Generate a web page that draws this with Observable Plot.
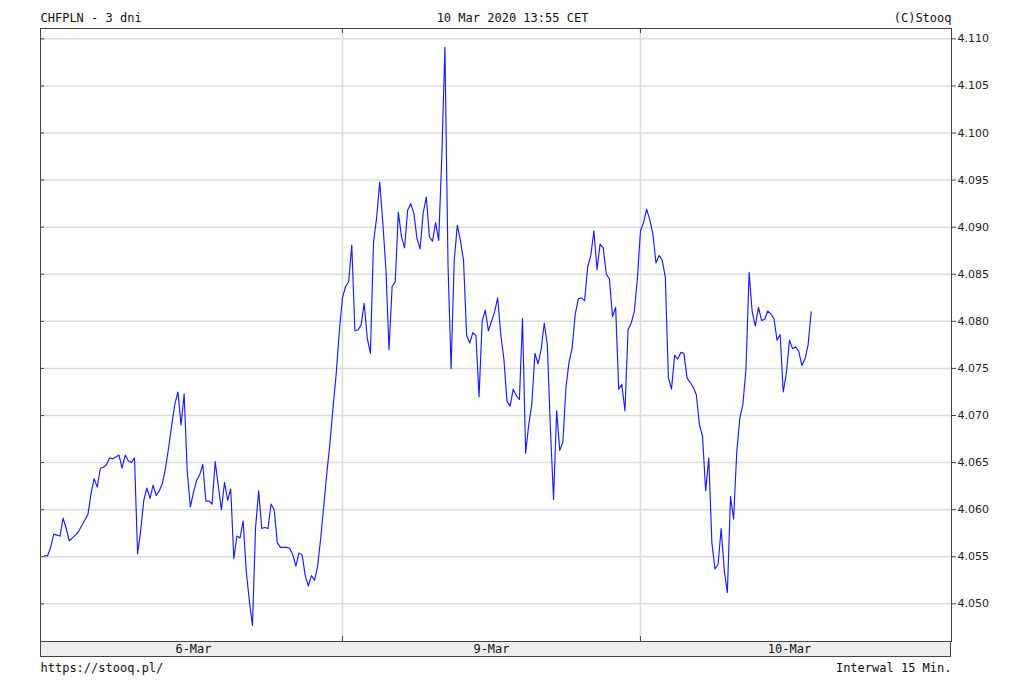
<!DOCTYPE html>
<html>
<head>
<meta charset="utf-8">
<script src="https://cdn.jsdelivr.net/npm/d3@7"></script>
<script src="https://cdn.jsdelivr.net/npm/@observablehq/plot@0.6"></script>
<style>
  body { margin: 0; background: #fff; }
  #chart svg { display: block; }
</style>
</head>
<body>
<div id="chart"></div>
<script>
// ---- texts ----
const title = "CHFPLN - 3 dni";
const stamp = "10 Mar 2020 13:55 CET";
const credit = "(C)Stooq";
const source = "https://stooq.pl/";
const interval = "Interwal 15 Min.";

// ---- axis labels ----
const days = ["6-Mar", "9-Mar", "10-Mar"];
const yTicks = [4.050, 4.055, 4.060, 4.065, 4.070, 4.075, 4.080, 4.085, 4.090, 4.095, 4.100, 4.105, 4.110];

// ---- CHF/PLN quotes, 15-minute bars from 00:00 of each day ----
const day6 = [
  4.0551, 4.0551, 4.0560, 4.0574, 4.0573, 4.0572, 4.0591, 4.0580, 4.0567, 4.0570,
  4.0573, 4.0577, 4.0583, 4.0589, 4.0595, 4.0617, 4.0633, 4.0624, 4.0644, 4.0645,
  4.0648, 4.0655, 4.0654, 4.0656, 4.0658, 4.0644, 4.0658, 4.0652, 4.0650, 4.0655,
  4.0553, 4.0578, 4.0610, 4.0623, 4.0612, 4.0626, 4.0615, 4.0620, 4.0628, 4.0644,
  4.0666, 4.0690, 4.0712, 4.0725, 4.0690, 4.0723, 4.0640, 4.0603, 4.0618, 4.0631,
  4.0637, 4.0648, 4.0609, 4.0609, 4.0606, 4.0651, 4.0625, 4.0600, 4.0629, 4.0610,
  4.0622, 4.0548, 4.0572, 4.0570, 4.0588, 4.0535, 4.0503, 4.0477, 4.0581, 4.0620,
  4.0580, 4.0581, 4.0580, 4.0606, 4.0600, 4.0565, 4.0560, 4.0560, 4.0560, 4.0559,
  4.0552, 4.0540, 4.0554, 4.0552, 4.0530, 4.0519, 4.0530, 4.0525, 4.0540, 4.0570,
  4.0605, 4.0640, 4.0672, 4.0710, 4.0745, 4.0790
];
const day9 = [
  4.0825, 4.0837, 4.0842, 4.0881, 4.0790, 4.0791, 4.0796, 4.0819, 4.0782, 4.0766,
  4.0884, 4.0910, 4.0948, 4.0905, 4.0855, 4.0770, 4.0837, 4.0842, 4.0916, 4.0890,
  4.0878, 4.0918, 4.0925, 4.0915, 4.0888, 4.0877, 4.0915, 4.0932, 4.0890, 4.0885,
  4.0905, 4.0886, 4.0975, 4.1091, 4.0860, 4.0750, 4.0865, 4.0902, 4.0886, 4.0865,
  4.0785, 4.0777, 4.0788, 4.0785, 4.0720, 4.0800, 4.0812, 4.0790, 4.0800, 4.0810,
  4.0825, 4.0786, 4.0760, 4.0715, 4.0710, 4.0728, 4.0721, 4.0717, 4.0803, 4.0660,
  4.0690, 4.0712, 4.0766, 4.0755, 4.0770, 4.0798, 4.0775, 4.0685, 4.0611, 4.0705,
  4.0663, 4.0672, 4.0730, 4.0757, 4.0772, 4.0808, 4.0824, 4.0825, 4.0822, 4.0858,
  4.0870, 4.0896, 4.0855, 4.0882, 4.0878, 4.0850, 4.0845, 4.0805, 4.0815, 4.0728,
  4.0733, 4.0705, 4.0791, 4.0798, 4.0810, 4.0845
];
const day10 = [
  4.0896, 4.0905, 4.0919, 4.0908, 4.0893, 4.0862, 4.0870, 4.0865, 4.0847, 4.0740,
  4.0728, 4.0764, 4.0760, 4.0767, 4.0766, 4.0740, 4.0735, 4.0730, 4.0722, 4.0690,
  4.0678, 4.0620, 4.0655, 4.0565, 4.0537, 4.0542, 4.0580, 4.0535, 4.0512, 4.0614,
  4.0590, 4.0660, 4.0697, 4.0712, 4.0750, 4.0852, 4.0810, 4.0795, 4.0815, 4.0801,
  4.0802, 4.0811, 4.0808, 4.0803, 4.0780, 4.0786, 4.0725, 4.0745, 4.0780, 4.0771,
  4.0773, 4.0768, 4.0753, 4.0760, 4.0775, 4.0810
];

// hours on a trading-day axis (each shown day = 24 h)
const series = [day6, day9, day10];
const data = series.flatMap((vals, d) => vals.map((v, i) => ({t: d * 24 + i / 4, v})));

const W = 1024, H = 687, mL = 40, mR = 73, mT = 28, mB = 46, bandH = 15;
const plotW = W - mL - mR, plotH = H - mT - mB;

function bandMark(index, scales, values, dim) {
  const d = dim || {width: W, height: H, marginLeft: mL, marginRight: mR, marginBottom: mB};
  const g = d3.create("svg:g");
  g.append("rect")
    .attr("x", d.marginLeft + 0.5)
    .attr("y", d.height - d.marginBottom + 0.5)
    .attr("width", d.width - d.marginLeft - d.marginRight - 1)
    .attr("height", bandH)
    .attr("fill", "#eeeeee")
    .attr("stroke", "#444");
  return g.node();
}

const chart = Plot.plot({
  width: W, height: H,
  marginLeft: mL, marginRight: mR, marginTop: mT, marginBottom: mB,
  x: {type: "linear", domain: [-0.32, 73.05], label: null},
  y: {domain: [4.0460, 4.1111], label: null},
  style: {background: "#fff", color: "#111", fontFamily: "DejaVu Sans Mono", overflow: "visible"},
  marks: [
    Plot.gridY(yTicks, {stroke: "#dcdcdc", strokeOpacity: 1, strokeWidth: 1.5}),
    Plot.gridX([24, 48], {stroke: "#dcdcdc", strokeOpacity: 1, strokeWidth: 1.5}),
    Plot.ruleX([24, 48], {stroke: "#444", insetBottom: plotH - 5}),
    Plot.ruleX([24, 48], {stroke: "#444", insetTop: plotH - 5}),
    Plot.ruleY(yTicks, {stroke: "#444", insetRight: plotW - 4}),
    Plot.line(data, {x: "t", y: "v", stroke: "#1a1aff", strokeWidth: 1.15}),
    Plot.frame({stroke: "#444"}),
    bandMark,
    Plot.axisY({anchor: "right", ticks: yTicks, tickSize: 4, tickPadding: 2,
      tickFormat: d3.format(".3f"), fontFamily: "DejaVu Sans", fontSize: 11, stroke: "#444", fill: "#222"}),
    Plot.axisX({anchor: "bottom", ticks: [12, 36, 60], tickSize: 0, tickPadding: 3,
      tickFormat: d => days[Math.floor(d / 24)], fontSize: 12}),
    Plot.text([title], {text: d => d, frameAnchor: "top-left", textAnchor: "start", dy: -15, fontSize: 12}),
    Plot.text([stamp], {text: d => d, frameAnchor: "top", dx: (W / 2) - (mL + plotW / 2), dy: -15, fontSize: 12}),
    Plot.text([credit], {text: d => d, frameAnchor: "top-right", textAnchor: "end", dy: -15, fontSize: 12}),
    Plot.text([source], {text: d => d, frameAnchor: "bottom-left", textAnchor: "start", dy: 30, fontSize: 12}),
    Plot.text([interval], {text: d => d, frameAnchor: "bottom-right", textAnchor: "end", dy: 30, fontSize: 12})
  ]
});
document.getElementById("chart").append(chart);
</script>
</body>
</html>
